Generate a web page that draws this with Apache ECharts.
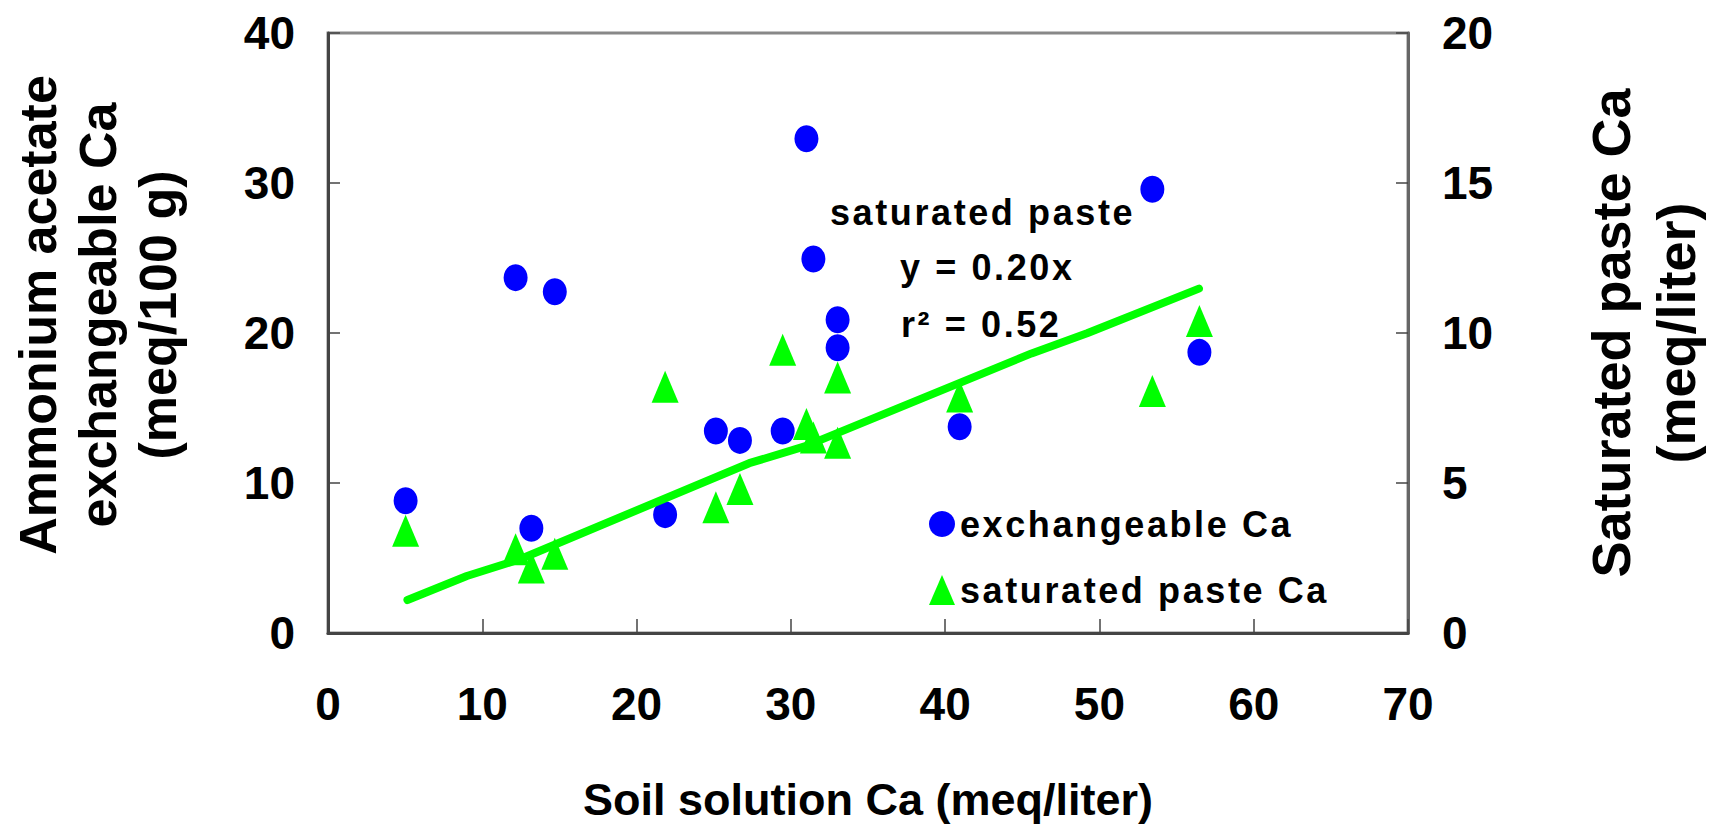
<!DOCTYPE html>
<html>
<head>
<meta charset="utf-8">
<title>Soil solution Ca vs exchangeable and saturated paste Ca</title>
<script src="https://cdn.jsdelivr.net/npm/echarts@6/dist/echarts.min.js"></script>
<style>
  html, body { margin: 0; padding: 0; background: #fff; }
  #chart { width: 1720px; height: 830px; }
  /* annotation and legend lettering is tracked out */
  #chart text[style*="36px"] { letter-spacing: 2.6px; }
</style>
</head>
<body>
<div id="chart"></div>
<script>
// Soil solution Ca (meq/liter) for each sample
const soilCa = [5.03, 12.16, 13.18, 14.70, 21.85, 25.14, 26.70, 29.47, 31.01, 31.46, 33.03, 33.03, 40.94, 53.43, 56.48];
// Ammonium acetate exchangeable Ca (meq/100 g), left axis
const exchCa = [8.82, 23.69, 6.98, 22.75, 7.89, 13.47, 12.84, 13.47, 32.95, 24.93, 20.88, 19.02, 13.75, 29.58, 18.71];
// Saturated paste Ca (meq/liter), right axis
const pasteCa = [3.41, 2.79, 2.18, 2.64, 8.21, 4.19, 4.80, 9.44, 6.97, 6.52, 8.52, 6.34, 7.88, 8.07, 10.40];
// Fitted saturated paste line (y = 0.20x), vertices as plotted
const fitX = [5.15, 9.0, 12.44, 27.3, 30.95, 45.6, 49.2, 56.45];
const fitY = [1.10, 1.90, 2.46, 5.66, 6.23, 9.32, 9.99, 11.48];
// Axis ticks
const xTicks = { min: 0, max: 70, step: 10 };
const leftTicks = { min: 0, max: 40, step: 10 };
const rightTicks = { min: 0, max: 20, step: 5 };

const FONT = "'Liberation Sans', Arial, Helvetica, sans-serif";

const pairs = (xa, ya) => xa.map((x, i) => [x, ya[i]]);

const tickLabel = { fontSize: 46, fontWeight: 'bold', fontFamily: FONT, color: '#000' };
const noteStyle = { fontSize: 36, fontWeight: 'bold', fontFamily: FONT, fill: '#000', verticalAlign: 'middle' };

const chart = echarts.init(document.getElementById('chart'), null, { renderer: 'svg' });

chart.setOption({
  animation: false,
  backgroundColor: '#fff',
  grid: {
    left: 324, right: 312, top: 33, bottom: 197,
    show: true, borderColor: '#888', borderWidth: 3, backgroundColor: 'transparent'
  },
  xAxis: {
    type: 'value',
    min: xTicks.min, max: xTicks.max, interval: xTicks.step,
    name: 'Soil solution Ca (meq/liter)',
    nameLocation: 'middle', nameGap: 144,
    nameTextStyle: { fontSize: 45, fontWeight: 'bold', fontFamily: FONT, color: '#000' },
    axisLine: { show: true, lineStyle: { color: '#444', width: 3 } },
    axisTick: { show: true, inside: true, length: 14, lineStyle: { color: '#444', width: 1.5 } },
    axisLabel: Object.assign({ margin: 48 }, tickLabel),
    splitLine: { show: false }
  },
  yAxis: [
    {
      type: 'value', position: 'left',
      min: leftTicks.min, max: leftTicks.max, interval: leftTicks.step,
      name: 'Ammonium acetate\nexchangeable Ca\n(meq/100 g)',
      nameLocation: 'middle', nameRotate: 90, nameGap: 140,
      nameTextStyle: {
        fontSize: 52, fontWeight: 'bold', fontFamily: FONT, color: '#000',
        lineHeight: 60, padding: [0, 0, 0, 36]
      },
      axisLine: { show: true, lineStyle: { color: '#444', width: 3 } },
      axisTick: { show: true, inside: true, length: 12, lineStyle: { color: '#444', width: 1.5 } },
      axisLabel: Object.assign({ margin: 33 }, tickLabel),
      splitLine: { show: false }
    },
    {
      type: 'value', position: 'right',
      min: rightTicks.min, max: rightTicks.max, interval: rightTicks.step,
      name: 'Saturated paste Ca\n(meq/liter)',
      nameLocation: 'middle', nameRotate: 90, nameGap: 170,
      nameTextStyle: {
        fontSize: 54, fontWeight: 'bold', fontFamily: FONT, color: '#000',
        lineHeight: 65
      },
      axisLine: { show: true, lineStyle: { color: '#666', width: 3 } },
      axisTick: { show: true, inside: true, length: 12, lineStyle: { color: '#444', width: 1.5 } },
      axisLabel: Object.assign({ margin: 34 }, tickLabel),
      splitLine: { show: false }
    }
  ],
  legend: {
    orient: 'vertical',
    left: 929, top: 506,
    padding: 0,
    itemWidth: 26, itemHeight: 30, itemGap: 30,
    symbolKeepAspect: false,
    textStyle: { fontSize: 36, fontWeight: 'bold', fontFamily: FONT, color: '#000' },
    data: ['exchangeable Ca', 'saturated paste Ca']
  },
  series: [
    {
      name: 'exchangeable Ca',
      type: 'scatter',
      yAxisIndex: 0,
      data: pairs(soilCa, exchCa),
      symbol: 'circle',
      symbolSize: [24, 27],
      itemStyle: { color: '#0000FF', opacity: 1 },
      z: 2
    },
    {
      name: 'saturated paste fit',
      type: 'line',
      yAxisIndex: 1,
      data: pairs(fitX, fitY),
      showSymbol: false,
      symbol: 'none',
      lineStyle: { color: '#00FF00', width: 8, cap: 'round', join: 'round' },
      z: 3
    },
    {
      name: 'saturated paste Ca',
      type: 'scatter',
      yAxisIndex: 1,
      data: pairs(soilCa, pasteCa),
      symbol: 'triangle',
      symbolSize: [27, 32],
      itemStyle: { color: '#00FF00', opacity: 1 },
      z: 4
    }
  ],
  graphic: [
    { type: 'text', x: 830, y: 212, silent: true,
      style: Object.assign({ text: 'saturated paste' }, noteStyle) },
    { type: 'text', x: 900, y: 267, silent: true,
      style: Object.assign({ text: 'y = 0.20x' }, noteStyle) },
    { type: 'text', x: 901, y: 324, silent: true,
      style: Object.assign({ text: 'r² = 0.52' }, noteStyle) }
  ]
});
</script>
</body>
</html>
